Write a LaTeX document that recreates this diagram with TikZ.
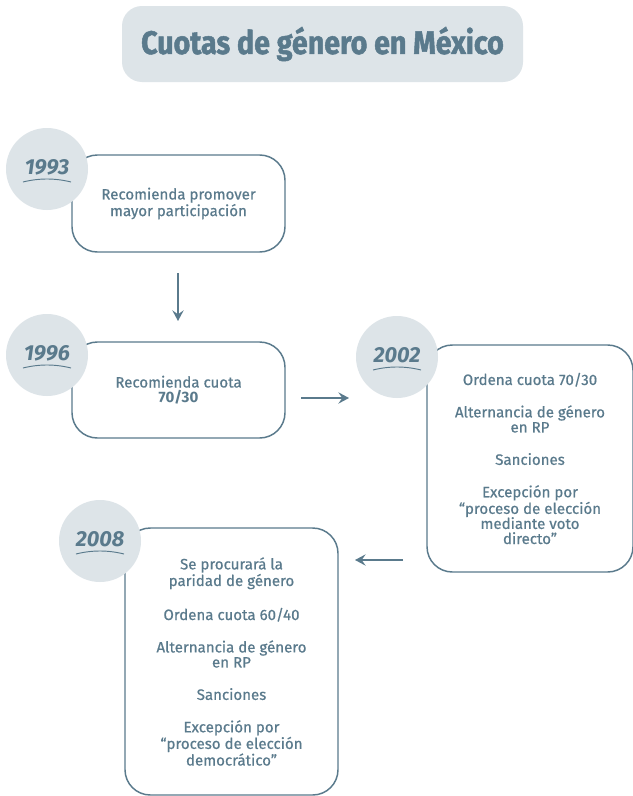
\documentclass[tikz,border=0pt]{standalone}
\usepackage{fontspec}
\setmainfont{Fira Sans}
\newfontfamily\plainfont{Fira Sans}
\newfontfamily\bodyfont{Fira Sans}[FakeBold=0.6]
\newfontfamily\titlefont{Fira Sans}[FakeStretch=0.88, BoldFeatures={FakeBold=1.5}]
\usetikzlibrary{arrows.meta}
\definecolor{ink}{HTML}{5A7A8C}
\definecolor{pale}{HTML}{DDE4E8}
\tikzset{
  x=0.75pt, y=-0.75pt,
  titlebox/.style={fill=pale, rounded corners=15pt, minimum width=300.75pt, minimum height=57pt, text=ink, font=\titlefont\bfseries\fontsize{24.4}{28}\selectfont},
  evbox/.style={draw=ink, line width=1.1pt, rounded corners=19pt, fill=white, text=ink, align=center, inner sep=0pt, font=\bodyfont\fontsize{11.3}{11.3}\selectfont},
  yearcirc/.style={circle, fill=pale, minimum size=61.5pt, inner sep=0pt},
  yeartxt/.style={text=ink, font=\plainfont\bfseries\itshape\fontsize{16.3}{18}\selectfont, inner sep=0pt},
  conn/.style={draw=ink, line width=1.1pt, -{Stealth[length=8pt,width=8.5pt,inset=3pt]}},
  swoosh/.style={draw=ink, line width=0.7pt},
}
\newcommand{\yearmark}[3]{%
  \node[yearcirc] (#1) at (#2) {};
  \node[yeartxt] (#1t) at ([shift={(0,-2)}]#1.center) {#3};
  \draw[swoosh] ([shift={(-24,13)}]#1.center) .. controls ([shift={(-8,9)}]#1.center) and ([shift={(8,9)}]#1.center) .. ([shift={(24,13)}]#1.center);
}
\begin{document}
\begin{tikzpicture}
\useasboundingbox[fill=white] (0,0) rectangle (632,796);
% title
\node[titlebox] (title) at (322.5,44) {Cuotas de género en México};
% boxes
\node[evbox, minimum width=159.75pt, minimum height=72.75pt] (b1) at (178.5,203.5)
  {Recomienda promover\\mayor participación};
\node[evbox, minimum width=159.75pt, minimum height=72pt] (b2) at (178.5,390)
  {Recomienda cuota\\{\plainfont\bfseries 70/30}};
\node[evbox, minimum width=154.5pt, minimum height=170.25pt] (b3) at (530,458.5)
  {Ordena cuota 70/30\\[13pt]
   Alternancia de género\\en RP\\[13pt]
   Sanciones\\[13pt]
   Excepción por\\“proceso de elección\\mediante voto\\directo”};
\node[evbox, minimum width=159.75pt, minimum height=200.25pt] (b4) at (231.5,661.5)
  {Se procurará la\\paridad de género\\[13pt]
   Ordena cuota 60/40\\[13pt]
   Alternancia de género\\en RP\\[13pt]
   Sanciones\\[13pt]
   Excepción por\\“proceso de elección\\democrático”};
% year circles
\yearmark{c1}{47,169}{1993}
\yearmark{c2}{47,355}{1996}
\yearmark{c3}{397,357}{2002}
\yearmark{c4}{100,541}{2008}
% connectors
\coordinate (a1s) at (178,273);
\coordinate (a1e) at (178,321);
\coordinate (a2s) at (301,398);
\coordinate (a2e) at (349,398);
\coordinate (a3s) at (403,560);
\coordinate (a3e) at (355,560);
\draw[conn] (a1s) -- (a1e);
\draw[conn] (a2s) -- (a2e);
\draw[conn] (a3s) -- (a3e);
\end{tikzpicture}
\end{document}
